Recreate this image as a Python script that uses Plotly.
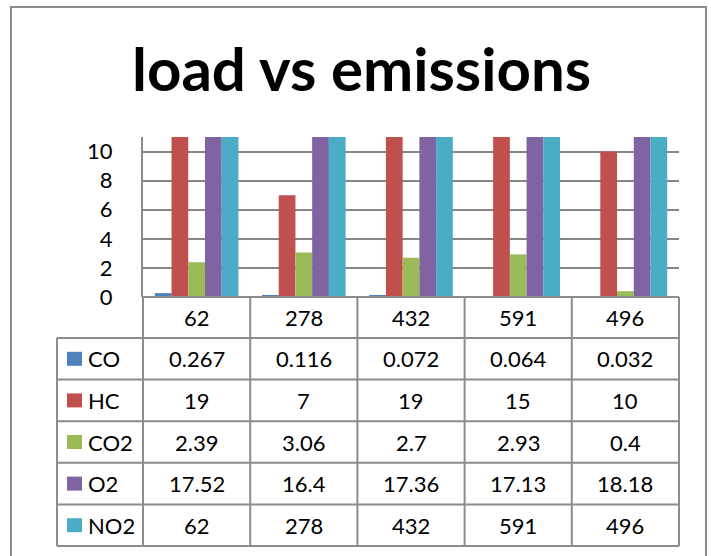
import plotly.graph_objects as go

# ---- data ----
categories = ["62", "278", "432", "591", "496"]
series_names = ["CO", "HC", "CO2", "O2", "NO2"]
co = [0.267, 0.116, 0.072, 0.064, 0.032]
hc = [19, 7, 19, 15, 10]
co2 = [2.39, 3.06, 2.7, 2.93, 0.4]
o2 = [17.52, 16.4, 17.36, 17.13, 18.18]
no2 = [62, 278, 432, 591, 496]
y_ticks = [0, 2, 4, 6, 8, 10]
title_text = "load vs emissions"

series_values = [co, hc, co2, o2, no2]
colors = ["#4F81BD", "#C0504D", "#9BBB59", "#8064A2", "#4BACC6"]

# ---- layout geometry (pixels) ----
W_FIG, H_FIG = 711, 556
PL, PR, PT, PB = 143, 679, 137, 297
PW, PH = PR - PL, PB - PT
HEAD_H = 41
ROW_H = 41.6
LEG_L = 57
GRID = "#8C8C8C"
FONT = "Lato, Calibri, Carlito, sans-serif"
FS = 22


def px(x):
    return (x - PL) / PW


def py(y):
    return (PB - y) / PH


fig = go.Figure()
for name, vals, c in zip(series_names, series_values, colors):
    fig.add_trace(go.Bar(x=categories, y=vals, name=name, marker_color=c,
                         marker_line_width=0))

shapes = []
annotations = []
ncat = len(categories)
col_w = PW / ncat
table_bottom = PB + HEAD_H + ROW_H * len(series_names)

# outer frame
shapes.append(dict(type="rect", xref="paper", yref="paper",
                   x0=px(11), x1=px(706), y0=py(7), y1=py(620),
                   line=dict(color="#8C8C8C", width=2), fillcolor="rgba(0,0,0,0)"))

# horizontal table lines
shapes.append(dict(type="line", xref="paper", yref="paper", x0=0, x1=1,
                   y0=py(PB), y1=py(PB), line=dict(color=GRID, width=2)))
for k in range(len(series_names) + 1):
    yy = PB + HEAD_H + ROW_H * k
    shapes.append(dict(type="line", xref="paper", yref="paper", x0=px(LEG_L), x1=1,
                       y0=py(yy), y1=py(yy), line=dict(color=GRID, width=2)))
# vertical table lines
for i in range(ncat + 1):
    xx = PL + col_w * i
    shapes.append(dict(type="line", xref="paper", yref="paper", x0=px(xx), x1=px(xx),
                       y0=py(PB), y1=py(table_bottom), line=dict(color=GRID, width=2)))
shapes.append(dict(type="line", xref="paper", yref="paper", x0=px(LEG_L), x1=px(LEG_L),
                   y0=py(PB + HEAD_H), y1=py(table_bottom), line=dict(color=GRID, width=2)))

# header labels
for i, cat in enumerate(categories):
    annotations.append(dict(xref="paper", yref="paper", x=px(PL + col_w * (i + 0.5)),
                            y=py(PB + HEAD_H / 2), text=cat, showarrow=False,
                            font=dict(family=FONT, size=FS, color="black"),
                            xanchor="center", yanchor="middle"))
# rows
for k, (name, vals, c) in enumerate(zip(series_names, series_values, colors)):
    yc = PB + HEAD_H + ROW_H * (k + 0.5)
    shapes.append(dict(type="rect", xref="paper", yref="paper",
                       x0=px(67), x1=px(82), y0=py(yc - 7), y1=py(yc + 7),
                       line=dict(width=0), fillcolor=c))
    annotations.append(dict(xref="paper", yref="paper", x=px(86), y=py(yc), text=name,
                            showarrow=False, xanchor="left", yanchor="middle",
                            font=dict(family=FONT, size=FS, color="black")))
    for i, v in enumerate(vals):
        annotations.append(dict(xref="paper", yref="paper", x=px(PL + col_w * (i + 0.5)),
                                y=py(yc), text=str(v), showarrow=False,
                                xanchor="center", yanchor="middle",
                                font=dict(family=FONT, size=FS, color="black")))

# title
annotations.append(dict(xref="paper", yref="paper", x=px(361), y=py(68), text="<b>" + title_text + "</b>",
                        showarrow=False, xanchor="center", yanchor="middle",
                        font=dict(family=FONT, size=60, color="black")))

fig.update_layout(
    width=W_FIG, height=H_FIG,
    margin=dict(l=PL, r=W_FIG - PR, t=PT, b=H_FIG - PB),
    barmode="group", bargap=0.22, bargroupgap=0,
    showlegend=False,
    plot_bgcolor="white", paper_bgcolor="white",
    font=dict(family=FONT, size=FS, color="black"),
    xaxis=dict(range=[-0.5, ncat - 0.5], showticklabels=False, showgrid=False,
               zeroline=False, showline=False, fixedrange=True),
    yaxis=dict(range=[0, 11], tickvals=y_ticks, showgrid=True, gridcolor="#868686",
               gridwidth=1.5, zeroline=False, showline=True, linecolor=GRID, linewidth=2,
               ticks="", ticklabelstandoff=24, fixedrange=True,
               tickfont=dict(family=FONT, size=FS, color="black")),
    shapes=shapes,
    annotations=annotations,
)

fig.write_html("out.html", config={"displayModeBar": False},
               post_script="document.body.style.margin='0';")
